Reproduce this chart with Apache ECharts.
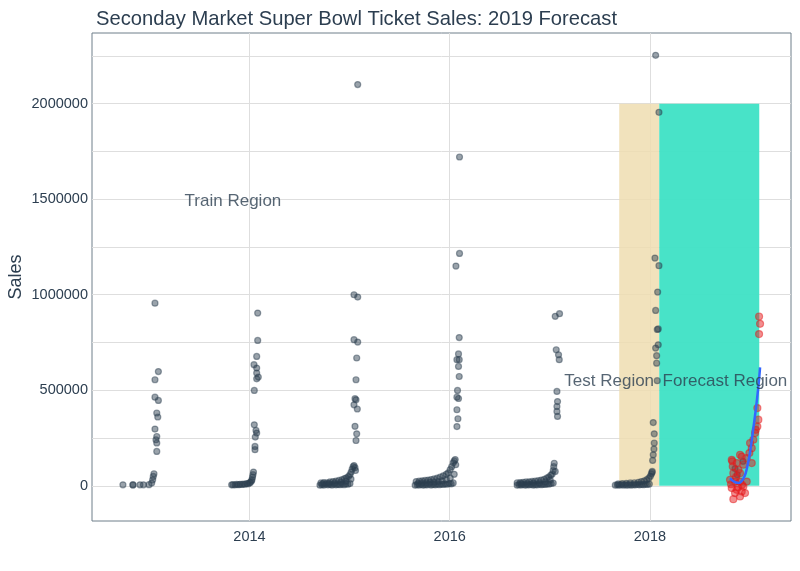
<!DOCTYPE html>
<html><head><meta charset="utf-8">
<script src="https://cdn.jsdelivr.net/npm/echarts@6/dist/echarts.min.js"></script>
<style>html,body{margin:0;padding:0;background:#fff}#c{width:800px;height:571px}</style>
</head><body><div id="c"></div>
<script>
// ---- tick labels / grid values ----
const xTickLabels = [2014, 2016, 2018];
const yTickLabels = [0, 500000, 1000000, 1500000, 2000000];
const yGridValues = [0, 250000, 500000, 750000, 1000000, 1250000, 1500000, 1750000, 2000000, 2250000];

// ---- regions (decimal year start/end, sales top) ----
const testRegion = [2017.693, 2018.093, 2000000];
const forecastRegion = [2018.093, 2019.092, 2000000];

// ---- annotations [decimal year, sales, text] ----
const annotations = [
  [2013.835, 1490000, 'Train Region'],
  [2017.593, 545000, 'Test Region'],
  [2018.749, 545000, 'Forecast Region']
];

// ---- actual sales, [decimal year, sales] ----
const season2013 = [
  [2012.736, 5000], [2012.836, 4000], [2012.836, 6000], [2012.906, 5000], [2012.941, 5000], [2012.996, 6000],
  [2013.023, 14000], [2013.033, 31000], [2013.039, 49000], [2013.046, 63000],
  [2013.056, 956000], [2013.090, 598000], [2013.056, 555000], [2013.056, 464000], [2013.090, 447000],
  [2013.074, 381000], [2013.084, 360000], [2013.056, 297000], [2013.074, 258000], [2013.066, 241000],
  [2013.074, 224000], [2013.074, 180000]
];
const season2014 = [
  [2013.822, 5000], [2013.835, 6000], [2013.855, 5000], [2013.872, 7000], [2013.890, 6000], [2013.905, 8000],
  [2013.922, 7000], [2013.940, 9000], [2013.955, 8000], [2013.972, 12000], [2013.985, 10000], [2014.000, 15000],
  [2014.010, 18000], [2014.020, 25000], [2014.025, 32000], [2014.030, 45000], [2014.035, 58000], [2014.040, 72000],
  [2014.082, 904000], [2014.082, 761000], [2014.072, 677000], [2014.045, 634000], [2014.072, 616000],
  [2014.072, 590000], [2014.088, 569000], [2014.072, 560000], [2014.048, 499000], [2014.048, 319000],
  [2014.065, 290000], [2014.072, 276000], [2014.058, 255000], [2014.055, 206000], [2014.055, 189000]
];
const season2015 = [
  [2014.704, 3000], [2014.724, 6000], [2014.744, 4000], [2014.764, 8000], [2014.784, 5000], [2014.804, 7000],
  [2014.824, 4000], [2014.844, 8000], [2014.864, 5000], [2014.884, 7000], [2014.904, 6000], [2014.924, 9000],
  [2014.944, 6000], [2014.964, 10000], [2014.984, 8000], [2015.004, 12000],
  [2014.714, 15000], [2014.744, 17000], [2014.774, 16000], [2014.804, 20000], [2014.834, 22000], [2014.864, 25000],
  [2014.894, 28000], [2014.924, 32000], [2014.949, 38000], [2014.969, 42000], [2014.989, 48000], [2015.004, 58000],
  [2015.016, 72000], [2015.026, 88000], [2015.036, 100000], [2015.044, 106000], [2015.054, 95000], [2015.059, 80000],
  [2014.734, 11000], [2014.794, 13000], [2014.854, 15000], [2014.914, 18000], [2014.964, 24000], [2015.014, 35000],
  [2015.081, 2100000], [2015.044, 1000000], [2015.081, 988000], [2015.044, 765000], [2015.081, 752000],
  [2015.071, 669000], [2015.064, 555000], [2015.054, 456000], [2015.064, 450000], [2015.044, 424000],
  [2015.077, 402000], [2015.054, 311000], [2015.071, 272000], [2015.064, 237000]
];
const season2016 = [
  [2015.655, 3000], [2015.675, 6000], [2015.695, 4000], [2015.715, 7000], [2015.735, 3000], [2015.755, 6000],
  [2015.775, 5000], [2015.795, 8000], [2015.815, 4000], [2015.835, 7000], [2015.855, 5000], [2015.875, 8000],
  [2015.895, 6000], [2015.915, 9000], [2015.935, 7000], [2015.955, 10000], [2015.975, 8000], [2015.995, 12000],
  [2016.015, 10000], [2016.035, 15000],
  [2015.665, 22000], [2015.695, 24000], [2015.725, 26000], [2015.755, 28000], [2015.785, 30000], [2015.815, 33000],
  [2015.845, 36000], [2015.875, 40000], [2015.905, 46000], [2015.935, 52000], [2015.965, 60000], [2015.985, 68000],
  [2016.005, 85000], [2016.020, 100000], [2016.035, 120000], [2016.045, 130000], [2016.055, 137000], [2016.060, 110000],
  [2015.685, 13000], [2015.725, 15000], [2015.765, 16000], [2015.805, 18000], [2015.845, 19000], [2015.885, 22000],
  [2015.925, 26000], [2015.965, 32000], [2016.005, 40000], [2016.045, 60000],
  [2016.098, 1721000], [2016.098, 1216000], [2016.062, 1150000], [2016.095, 776000], [2016.088, 690000],
  [2016.072, 660000], [2016.095, 660000], [2016.088, 625000], [2016.095, 572000], [2016.078, 499000],
  [2016.072, 464000], [2016.088, 457000], [2016.072, 398000], [2016.082, 351000], [2016.072, 310000]
];
const season2017 = [
  [2016.674, 3000], [2016.694, 6000], [2016.714, 4000], [2016.734, 7000], [2016.754, 3000], [2016.774, 6000],
  [2016.794, 5000], [2016.814, 7000], [2016.834, 4000], [2016.854, 6000], [2016.874, 5000], [2016.894, 8000],
  [2016.914, 6000], [2016.934, 8000], [2016.954, 7000], [2016.974, 10000], [2016.994, 9000], [2017.014, 12000],
  [2017.034, 14000],
  [2016.674, 16000], [2016.704, 17000], [2016.734, 18000], [2016.764, 20000], [2016.794, 21000], [2016.824, 23000],
  [2016.854, 25000], [2016.884, 27000], [2016.914, 30000], [2016.944, 34000], [2016.969, 40000], [2016.989, 46000],
  [2017.009, 55000], [2017.024, 62000], [2017.034, 80000], [2017.039, 100000], [2017.044, 118000], [2017.054, 75000],
  [2016.714, 11000], [2016.774, 12000], [2016.834, 14000], [2016.894, 16000], [2016.954, 20000], [2017.004, 30000],
  [2017.054, 887000], [2017.097, 901000], [2017.064, 712000], [2017.087, 686000], [2017.094, 660000],
  [2017.071, 494000], [2017.077, 441000], [2017.071, 415000], [2017.071, 389000], [2017.077, 363000]
];
const season2018 = [
  [2017.654, 3000], [2017.674, 5000], [2017.694, 3000], [2017.714, 6000], [2017.734, 4000], [2017.754, 5000],
  [2017.774, 3000], [2017.794, 6000], [2017.814, 4000], [2017.834, 6000], [2017.854, 5000], [2017.874, 7000],
  [2017.894, 5000], [2017.914, 7000], [2017.934, 6000], [2017.954, 8000], [2017.974, 7000], [2017.994, 9000],
  [2017.684, 10000], [2017.724, 12000], [2017.764, 13000], [2017.804, 15000], [2017.844, 16000], [2017.884, 18000],
  [2017.914, 22000], [2017.944, 26000], [2017.969, 32000], [2017.989, 40000], [2018.004, 50000], [2018.014, 62000],
  [2018.021, 70000],
  [2018.057, 2253000], [2018.090, 1955000], [2018.050, 1192000], [2018.090, 1152000], [2018.077, 1014000],
  [2018.057, 918000], [2018.083, 821000], [2018.073, 818000], [2018.083, 738000], [2018.057, 721000],
  [2018.067, 681000], [2018.067, 642000], [2018.073, 550000], [2018.033, 331000], [2018.043, 272000],
  [2018.043, 224000], [2018.040, 192000], [2018.033, 162000], [2018.027, 133000], [2018.023, 75000]
];
const actual2019 = [
  [2018.850, 90000], [2018.872, 58000], [2018.930, 128000]
];

// ---- forecast points [decimal year, sales] ----
const forecastPoints = [
  [2019.090, 886000], [2019.100, 848000], [2019.090, 794000],
  [2019.073, 407000], [2019.083, 346000], [2019.073, 310000], [2019.057, 293000], [2019.050, 276000],
  [2019.033, 241000], [2019.000, 224000], [2019.017, 197000], [2018.993, 171000],
  [2018.917, 153000], [2018.900, 162000], [2018.967, 145000], [2019.017, 119000], [2018.817, 136000],
  [2018.823, 128000], [2018.867, 119000], [2018.827, 101000], [2018.933, 110000], [2018.833, 66000],
  [2018.900, 66000], [2018.883, 84000], [2018.800, 31000], [2018.850, 22000], [2018.900, 22000],
  [2018.967, 22000], [2018.817, -12000], [2018.867, -21000], [2018.917, -30000], [2018.950, -38000],
  [2018.850, -38000], [2018.833, -70000], [2018.900, -56000], [2018.933, -4000], [2018.810, 8000],
  [2018.880, -8000], [2018.920, 5000], [2018.860, 45000]
];

// ---- smoothed forecast trend [decimal year, sales] ----
const trendLine = [
  [2018.800, 40000], [2018.830, 25000], [2018.860, 17000], [2018.885, 15000], [2018.915, 24000],
  [2018.945, 50000], [2018.970, 95000], [2018.995, 160000], [2019.015, 230000], [2019.035, 310000],
  [2019.055, 390000], [2019.075, 480000], [2019.087, 540000], [2019.100, 620000]
];

const FONT = "'Liberation Sans', Arial, sans-serif";
const dark = 'rgba(44,62,80,0.6)';
const actualSeasons = [season2013, season2014, season2015, season2016, season2017, season2018, actual2019];

const chart = echarts.init(document.getElementById('c'), null, {renderer: 'canvas'});

const series = [
  {
    type: 'scatter', data: [], z: 1, silent: true,
    markArea: {
      silent: true,
      data: [
        [{xAxis: testRegion[0], yAxis: 0, itemStyle: {color: '#EFDDB0', opacity: 0.85}},
         {xAxis: testRegion[1], yAxis: testRegion[2]}],
        [{xAxis: forecastRegion[0], yAxis: 0, itemStyle: {color: '#42E2C6', opacity: 0.97}},
         {xAxis: forecastRegion[1], yAxis: forecastRegion[2]}]
      ]
    }
  }
];
actualSeasons.forEach(d => series.push({
  type: 'scatter', data: d, z: 3, symbolSize: 6, silent: true,
  itemStyle: {color: dark, borderColor: dark, borderWidth: 1.2}
}));
series.push({
  type: 'scatter', data: forecastPoints, z: 4, symbolSize: 7, silent: true,
  itemStyle: {color: 'rgba(228,26,28,0.62)', borderColor: 'rgba(228,26,28,0.62)', borderWidth: 1.2}
});
series.push({
  type: 'line', data: trendLine, z: 5, smooth: true, symbol: 'none', silent: true,
  lineStyle: {color: '#3366FF', width: 2.5}
});
series.push({
  type: 'scatter', data: annotations, z: 6, symbolSize: 1, silent: true,
  itemStyle: {color: 'rgba(0,0,0,0)'},
  label: {show: true, position: 'inside', formatter: p => p.data[2],
          fontFamily: FONT, fontSize: 17, color: '#2C3E50'}
});

chart.setOption({
  animation: false,
  backgroundColor: '#ffffff',
  title: {
    text: 'Seconday Market Super Bowl Ticket Sales: 2019 Forecast',
    left: 91, top: 4,
    textStyle: {fontFamily: FONT, fontSize: 20.2, fontWeight: 'normal', color: '#2C3E50'}
  },
  grid: {left: 92, right: 9, top: 33, bottom: 50, show: true, containLabel: false,
         outerBoundsMode: 'none',
         borderColor: '#6F7E8A', borderWidth: 1, backgroundColor: '#fff'},
  xAxis: {
    type: 'value', min: 2012.427, max: 2019.409,
    axisLine: {show: false},
    axisTick: {show: false, customValues: xTickLabels},
    axisLabel: {customValues: xTickLabels, formatter: v => String(Math.round(v)),
                fontFamily: FONT, fontSize: 14.5, color: '#2C3E50', margin: 8},
    splitLine: {show: true, lineStyle: {color: '#DEDEDE', width: 1}}
  },
  yAxis: {
    type: 'value', min: -184300, max: 2370000,
    name: 'Sales', nameLocation: 'middle', nameGap: 67, nameRotate: 90, nameMoveOverlap: false,
    nameTextStyle: {fontFamily: FONT, fontSize: 18, color: '#2C3E50'},
    axisLine: {show: false},
    axisTick: {show: false, customValues: yGridValues},
    axisLabel: {customValues: yTickLabels, formatter: v => String(Math.round(v)),
                fontFamily: FONT, fontSize: 14.5, color: '#2C3E50', margin: 4},
    splitLine: {show: true, lineStyle: {color: '#DEDEDE', width: 1}}
  },
  series: series
});
</script>
</body></html>
